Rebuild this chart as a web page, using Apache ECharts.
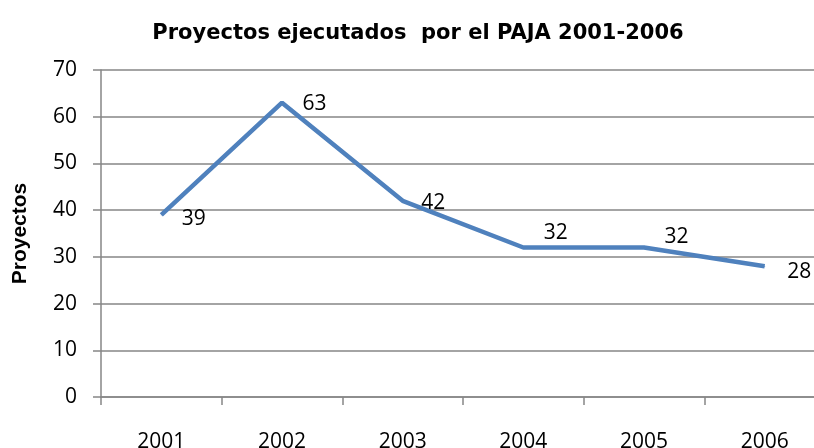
<!DOCTYPE html>
<html>
<head>
<meta charset="utf-8">
<script src="https://cdn.jsdelivr.net/npm/echarts@6/dist/echarts.min.js"></script>
<style>
  html, body { margin: 0; padding: 0; background: #fff; }
  #main { width: 814px; height: 448px; }
</style>
</head>
<body>
<div id="main"></div>
<script>
  // datos del grafico
  var years = ['2001', '2002', '2003', '2004', '2005', '2006'];
  var proyectos = [39, 63, 42, 32, 32, 28];
  // pequeños ajustes de las etiquetas (como en el original)
  var labelNudge = [[0, 4], [0, 1], [-2, 2], [0, -14], [0, -10], [2, 6]];

  var myChart = echarts.init(document.getElementById('main'));

  var seriesData = proyectos.map(function (v, i) {
    return { value: v, label: { offset: labelNudge[i] } };
  });

  var option = {
    animation: false,
    title: {
      text: 'Proyectos ejecutados  por el PAJA 2001-2006',
      left: 413,
      textAlign: 'center',
      top: 18,
      textStyle: { fontFamily: 'DejaVu Sans', fontSize: 21, fontWeight: 'bold', color: '#000' }
    },
    grid: { left: 101, width: 724, top: 70, bottom: 51, outerBoundsMode: 'none', containLabel: false },
    xAxis: {
      type: 'category',
      data: years,
      boundaryGap: true,
      axisLine: { lineStyle: { color: '#868686', width: 1.5 } },
      axisTick: { show: true, length: 8, inside: false, lineStyle: { color: '#868686', width: 1.5 } },
      axisLabel: { margin: 35, fontFamily: 'Open Sans', fontSize: 21, color: '#000' }
    },
    yAxis: {
      type: 'value',
      min: 0,
      max: 70,
      interval: 10,
      name: 'Proyectos',
      nameLocation: 'middle',
      nameGap: 70,
      nameTextStyle: { fontFamily: 'Liberation Sans', fontSize: 21, fontWeight: 'bold', color: '#000' },
      axisLine: { show: true, lineStyle: { color: '#868686', width: 1.5 } },
      axisTick: { show: true, length: 8, lineStyle: { color: '#868686', width: 1.5 } },
      splitLine: { lineStyle: { color: '#868686', width: 1.5 } },
      axisLabel: { margin: 24, fontFamily: 'Open Sans', fontSize: 21, color: '#000' }
    },
    series: [{
      name: 'Proyectos',
      type: 'line',
      data: seriesData,
      symbol: 'circle',
      symbolSize: 1,
      itemStyle: { color: '#4F81BD' },
      lineStyle: { color: '#4F81BD', width: 4.5 },
      label: {
        show: true,
        position: 'right',
        distance: 20,
        fontFamily: 'Open Sans',
        fontSize: 21,
        color: '#000'
      }
    }]
  };

  myChart.setOption(option);
</script>
</body>
</html>
